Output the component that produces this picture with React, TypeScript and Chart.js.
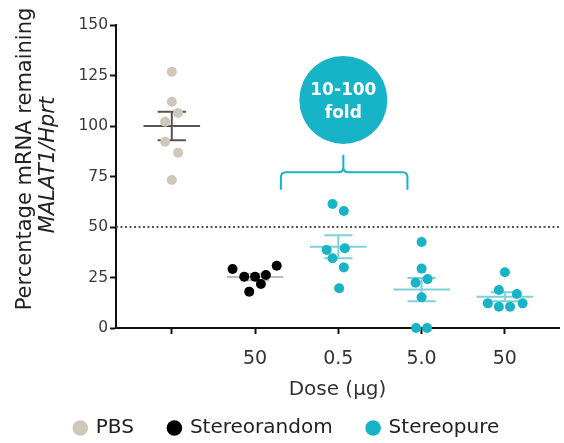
import { useEffect, useRef } from "react";
import { Chart, registerables } from "chart.js";

Chart.register(...registerables);

// ---------- data ----------
const doseLabels = ["", "50", "0.5", "5.0", "50"];
const groupPositions = [1, 2, 3, 4, 5];

const pbsValues = [126.9, 112.0, 106.4, 102.1, 92.2, 86.8, 73.3];
const pbsJitter = [0, 0, 0.075, -0.08, -0.08, 0.075, 0];

const randomValues = [29.2, 25.4, 25.4, 26.2, 30.8, 21.8, 18.0];
const randomJitter = [-0.27, -0.13, 0, 0.13, 0.26, 0.07, -0.07];

const pure05Values = [61.4, 57.9, 38.6, 39.5, 34.5, 30.0, 19.7];
const pure05Jitter = [-0.07, 0.066, -0.14, 0.078, -0.07, 0.066, 0.01];

const pure5Values = [42.6, 29.4, 24.2, 22.4, 15.2, 0, 0];
const pure5Jitter = [0, 0, 0.072, -0.072, 0, -0.066, 0.066];

const pure50Values = [27.6, 18.8, 16.8, 12.2, 10.5, 10.5, 12.2];
const pure50Jitter = [0, -0.072, 0.144, -0.205, -0.072, 0.062, 0.213];

const groupMeans = [100, 25.3, 40.2, 19.0, 15.5];
const groupSems = [7.0, 1.6, 5.7, 5.8, 2.2];

const thresholdValue = 50;

// ---------- styles ----------
const X_MIN = 0.33;
const X_MAX = 5.65;
const PBS_COLOR = "#cec7ba";
const RANDOM_COLOR = "#000000";
const PURE_COLOR = "#17b3c7";
const BAR_COLORS = ["#555555", "#bdbdbd", "#7fd0da", "#7fd0da", "#7fd0da"];
const MEAN_HALF = 0.34;
const CAP_HALF = 0.17;
const POINT_R = 5;
const FONT = "'DejaVu Sans', sans-serif";

function toPoints(pos: number, values: number[], jitter: number[]) {
  return values.map((v, i) => ({ x: pos + jitter[i], y: v }));
}

function barPoints(pos: number, mean: number, sem: number) {
  const gap = { x: pos, y: null as any };
  return [
    { x: pos - MEAN_HALF, y: mean },
    { x: pos + MEAN_HALF, y: mean },
    gap,
    { x: pos, y: mean - sem },
    { x: pos, y: mean + sem },
    gap,
    { x: pos - CAP_HALF, y: mean + sem },
    { x: pos + CAP_HALF, y: mean + sem },
    gap,
    { x: pos - CAP_HALF, y: mean - sem },
    { x: pos + CAP_HALF, y: mean - sem },
  ];
}

// annotation (bracket + bubble) in data units
const BRACKET_LEFT = 2.31;
const BRACKET_RIGHT = 3.83;
const BRACKET_CENTER = 3.06;
const BRACKET_Y = 77.1;
const BRACKET_LEG_Y = 68.5;
const BRACKET_TOP_Y = 85.8;
const BUBBLE_Y = 112.9;
const BUBBLE_R = 44;

const annotationPlugin = {
  id: "annot",
  afterDraw(chart: any) {
    const { ctx, scales } = chart;
    const xs = scales.x;
    const ys = scales.y;
    const L = xs.getPixelForValue(BRACKET_LEFT);
    const R = xs.getPixelForValue(BRACKET_RIGHT);
    const C = xs.getPixelForValue(BRACKET_CENTER);
    const yh = ys.getPixelForValue(BRACKET_Y);
    const yb = ys.getPixelForValue(BRACKET_LEG_Y);
    const yt = ys.getPixelForValue(BRACKET_TOP_Y);
    const r = 5;
    ctx.save();
    ctx.strokeStyle = PURE_COLOR;
    ctx.lineWidth = 2;
    ctx.beginPath();
    ctx.moveTo(L, yb);
    ctx.lineTo(L, yh + r);
    ctx.quadraticCurveTo(L, yh, L + r, yh);
    ctx.lineTo(C - r, yh);
    ctx.quadraticCurveTo(C, yh, C, yh - r);
    ctx.lineTo(C, yt);
    ctx.moveTo(C, yh - r);
    ctx.quadraticCurveTo(C, yh, C + r, yh);
    ctx.lineTo(R - r, yh);
    ctx.quadraticCurveTo(R, yh, R, yh + r);
    ctx.lineTo(R, yb);
    ctx.stroke();

    const cy = ys.getPixelForValue(BUBBLE_Y);
    ctx.fillStyle = PURE_COLOR;
    ctx.beginPath();
    ctx.arc(C, cy, BUBBLE_R, 0, Math.PI * 2);
    ctx.fill();
    ctx.fillStyle = "#ffffff";
    ctx.font = `bold 17px ${FONT}`;
    ctx.textAlign = "center";
    ctx.textBaseline = "middle";
    ctx.fillText("10-100", C, cy - 9);
    ctx.fillText("fold", C, cy + 14);

    // y-axis title (two lines, second italic)
    ctx.fillStyle = "#222222";
    ctx.textBaseline = "alphabetic";
    ctx.save();
    ctx.translate(31, 159);
    ctx.rotate(-Math.PI / 2);
    ctx.font = `21px ${FONT}`;
    ctx.fillText("Percentage mRNA remaining", 0, 0);
    ctx.restore();
    ctx.save();
    ctx.translate(54, 165);
    ctx.rotate(-Math.PI / 2);
    ctx.font = `italic 21px ${FONT}`;
    ctx.fillText("MALAT1/Hprt", 0, 0);
    ctx.restore();
    ctx.restore();
  },
};

export default function App() {
  const ref = useRef<HTMLCanvasElement>(null);
  useEffect(() => {
    if (!ref.current) return;
    Chart.defaults.font.family = FONT;

    const barDatasets = groupPositions.map((pos, i) => ({
      type: "line" as const,
      label: "",
      data: barPoints(pos, groupMeans[i], groupSems[i]),
      borderColor: BAR_COLORS[i],
      backgroundColor: BAR_COLORS[i],
      borderWidth: 2,
      pointRadius: 0,
      showLine: true,
      spanGaps: false,
      order: 5,
    }));

    const chart = new Chart(ref.current, {
      type: "scatter",
      data: {
        datasets: [
          {
            label: "PBS",
            data: toPoints(groupPositions[0], pbsValues, pbsJitter),
            backgroundColor: PBS_COLOR,
            borderColor: PBS_COLOR,
            borderWidth: 0,
            pointRadius: POINT_R,
            pointStyle: "circle",
            clip: false,
            order: 1,
          },
          {
            label: "Stereorandom",
            data: toPoints(groupPositions[1], randomValues, randomJitter),
            backgroundColor: RANDOM_COLOR,
            borderColor: RANDOM_COLOR,
            borderWidth: 0,
            pointRadius: POINT_R,
            pointStyle: "circle",
            clip: false,
            order: 2,
          },
          {
            label: "Stereopure",
            data: [
              ...toPoints(groupPositions[2], pure05Values, pure05Jitter),
              ...toPoints(groupPositions[3], pure5Values, pure5Jitter),
              ...toPoints(groupPositions[4], pure50Values, pure50Jitter),
            ],
            backgroundColor: PURE_COLOR,
            borderColor: PURE_COLOR,
            borderWidth: 0,
            pointRadius: POINT_R,
            pointStyle: "circle",
            clip: false,
            order: 3,
          },
          ...barDatasets,
          {
            type: "line" as const,
            label: "",
            data: [
              { x: X_MIN, y: thresholdValue },
              { x: X_MAX, y: thresholdValue },
            ],
            borderColor: "#555555",
            borderWidth: 2,
            borderDash: [2, 2.5],
            pointRadius: 0,
            showLine: true,
            order: 10,
          },
        ] as any,
      },
      options: {
        animation: false,
        responsive: true,
        maintainAspectRatio: false,
        layout: { padding: { left: 14, right: 4, top: 25, bottom: -5 } },
        plugins: {
          tooltip: { enabled: false },
          legend: {
            position: "bottom",
            labels: {
              usePointStyle: true,
              pointStyle: "circle",
              boxWidth: 11,
              boxHeight: 11,
              padding: 35,
              color: "#222222",
              font: { size: 20, family: FONT },
              filter: (item: any) => item.text !== "",
            },
          },
        },
        scales: {
          x: {
            type: "linear",
            min: X_MIN,
            max: X_MAX,
            afterBuildTicks: (s: any) => {
              s.ticks = groupPositions.map((v) => ({ value: v }));
            },
            afterFit: (s: any) => {
              s.height = 55;
            },
            ticks: {
              autoSkip: false,
              maxRotation: 0,
              padding: 14,
              color: "#333333",
              font: { size: 19, family: FONT },
              callback: (v: any) => doseLabels[Math.round(Number(v)) - 1] ?? "",
            },
            grid: {
              drawOnChartArea: false,
              drawTicks: true,
              tickLength: 6,
              tickColor: "#111111",
              tickWidth: 2,
            },
            border: { color: "#111111", width: 2 },
            title: {
              display: true,
              text: "Dose (µg)",
              color: "#333333",
              font: { size: 20, family: FONT },
              padding: { top: 0, bottom: -19 },
            },
          },
          y: {
            type: "linear",
            min: 0,
            max: 150,
            afterFit: (s: any) => {
              s.width = 102;
            },
            ticks: {
              stepSize: 25,
              padding: 2,
              color: "#3a3a3a",
              font: { size: 15.5, family: FONT },
            },
            grid: {
              drawOnChartArea: false,
              drawTicks: true,
              tickLength: 6,
              tickColor: "#111111",
              tickWidth: 2,
            },
            border: { color: "#111111", width: 2 },
          },
        },
      },
      plugins: [annotationPlugin],
    } as any);
    return () => chart.destroy();
  }, []);

  return (
    <div style={{ position: "fixed", left: 0, top: 0, width: 564, height: 443, background: "#ffffff" }}>
      <canvas ref={ref} style={{ display: "block" }} />
    </div>
  );
}
